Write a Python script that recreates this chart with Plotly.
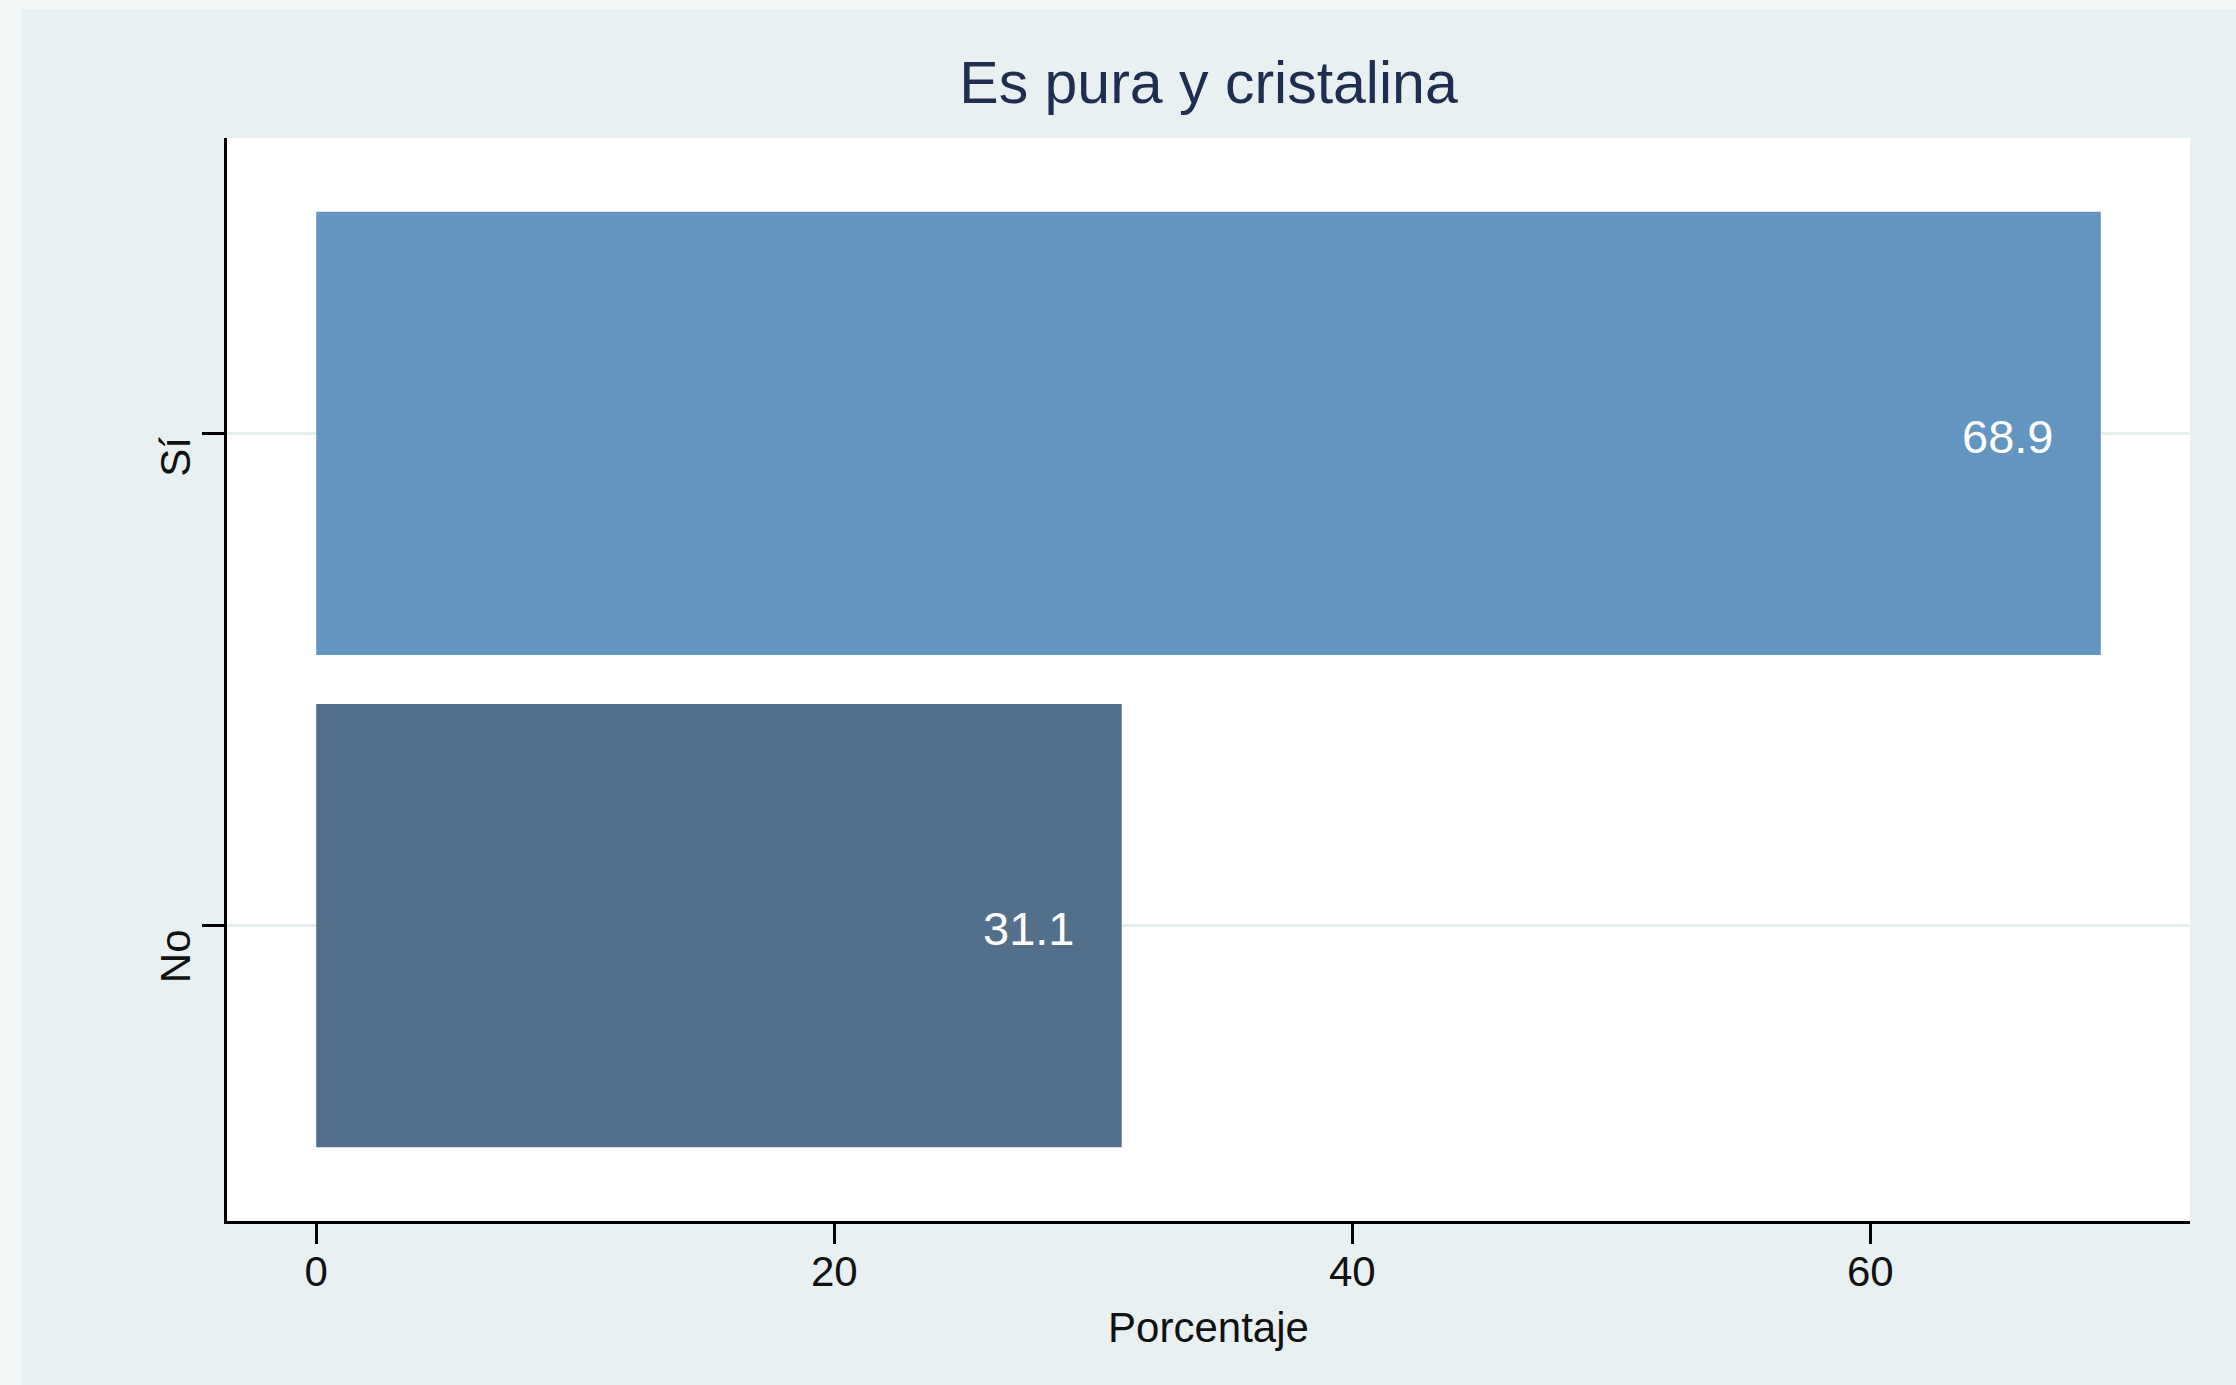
import plotly.graph_objects as go

# datos
categorias = ["No", "Sí"]
porcentajes = [31.1, 68.9]
colores = ["#52708c", "#6495c0"]
ticks_x = [0, 20, 40, 60]

W, H = 2236, 1385
L, R, T, B = 227, 46, 138, 164
FONT = "Liberation Sans, Arial, sans-serif"


def main() -> None:
    fig = go.Figure()
    fig.add_trace(go.Bar(
        x=porcentajes, y=categorias, orientation="h",
        width=0.9, marker=dict(color=colores, line_width=0),
        showlegend=False, hoverinfo="skip",
    ))

    # etiquetas de valor dentro de las barras
    for cat, val in zip(categorias, porcentajes):
        fig.add_annotation(
            x=val, y=cat, text=f"{val:.1f}", showarrow=False,
            xanchor="center", yanchor="middle", xshift=-93, yshift=-3,
            font=dict(family=FONT, size=47, color="white"),
        )

    # etiquetas del eje y (estilo Stata: giradas y colgando bajo la marca)
    for cat in categorias:
        fig.add_annotation(
            x=0, xref="paper", y=cat, text=cat, showarrow=False, textangle=-90,
            xanchor="right", yanchor="top", xshift=-26, yshift=-2,
            font=dict(family=FONT, size=42, color="#111111"),
        )

    # franja clara a la izquierda y arriba (borde del grafico original)
    pw, ph = W - L - R, H - T - B
    x_izq = (21 - L) / pw
    y_sup = (H - B - 9) / ph
    fig.add_shape(type="rect", xref="paper", yref="paper", x0=-0.5, x1=x_izq,
                  y0=-0.5, y1=1.5, fillcolor="#f3f7f8", line_width=0, layer="below")
    fig.add_shape(type="rect", xref="paper", yref="paper", x0=-0.5, x1=1.5,
                  y0=y_sup, y1=1.5, fillcolor="#f3f7f8", line_width=0, layer="below")

    fig.update_xaxes(
        range=[-3.445, 72.345], tickvals=ticks_x,
        showgrid=False, zeroline=False,
        showline=True, linecolor="black", linewidth=3,
        ticks="outside", ticklen=20, tickwidth=3, tickcolor="black",
        ticklabelstandoff=-8,
        tickfont=dict(family=FONT, size=42, color="#111111"),
        title=dict(text="Porcentaje", font=dict(family=FONT, size=42, color="#111111"), standoff=19),
    )
    fig.update_yaxes(
        type="category", categoryorder="array", categoryarray=categorias,
        range=[-0.6, 1.6], showticklabels=False,
        showgrid=True, gridcolor="#e6eef0", gridwidth=3, zeroline=False,
        showline=True, linecolor="black", linewidth=3,
        ticks="outside", ticklen=22, tickwidth=3, tickcolor="black",
    )

    fig.update_layout(
        width=W, height=H,
        margin=dict(l=L, r=R, t=T, b=B),
        paper_bgcolor="#e8f0f2", plot_bgcolor="white",
        title=dict(text="Es pura y cristalina", x=(L + pw / 2) / W, xanchor="center",
                   y=1 - 82 / H, yanchor="middle",
                   font=dict(family=FONT, size=59, color="#1e2d50")),
    )

    fig.write_html("out.html", config={"displayModeBar": False},
                   post_script="document.body.style.margin='0';")


if __name__ == "__main__":
    main()
